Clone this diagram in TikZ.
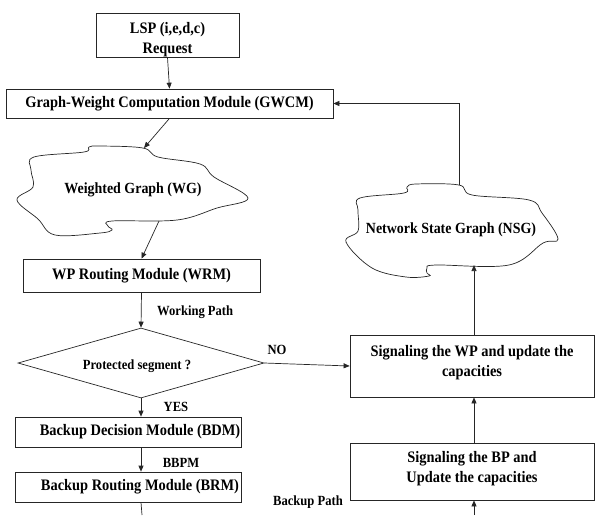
\documentclass[tikz,border=0pt]{standalone}
\usepackage{fontspec}
\setmainfont{Liberation Serif}[FakeStretch=0.9]
\usetikzlibrary{shapes.geometric,arrows.meta}
\begin{document}
\begin{tikzpicture}[x=1pt,y=-1pt,
  ln/.style={line width=0.7pt,draw=black!85},
  arr/.style={ln,-{Triangle[length=6pt,width=5pt]}},
  box/.style={ln,draw,rectangle,inner sep=0pt,align=center,
    font=\bfseries\fontsize{16}{20}\selectfont},
  maintxt/.style={align=center,inner sep=0pt,font=\bfseries\fontsize{16}{20}\selectfont},
  small/.style={inner sep=0pt,font=\bfseries\fontsize{14}{16}\selectfont},
  cloudtxt/.style={inner sep=0pt,font=\bfseries\fontsize{15.5}{18}\selectfont},
  cloudline/.style={ln}]
\useasboundingbox (0,0) rectangle (596,515);

% boxes
\node[box,minimum width=143pt,minimum height=44pt] (lsp) at (167.5,35) {};
\node[maintxt] (lsptxt) at ([yshift=-5pt]lsp.center) {LSP (i,e,d,c)\\Request};
\node[box,minimum width=327pt,minimum height=29pt] (gwcm) at (169.5,103.5) {Graph-Weight Computation Module (GWCM)};
\node[box,minimum width=237pt,minimum height=33pt] (wrm) at (141.5,275.5) {WP Routing Module (WRM)};
\node[ln,draw,diamond,aspect=3.5,minimum width=246pt,minimum height=70pt,inner sep=0pt] (dec) at (141,363) {};
\node[small] (dectxt) at (137,366) {Protected segment ?};
\node[box,minimum width=226pt,minimum height=30pt] (bdm) at (128,432) {};
\node[maintxt] (bdmtxt) at ([xshift=12pt]bdm.center) {Backup Decision Module (BDM)};
\node[box,minimum width=226pt,minimum height=30pt] (brm) at (128,487) {};
\node[maintxt] (brmtxt) at ([xshift=12pt]brm.center) {Backup Routing Module (BRM)};
\node[box,minimum width=244pt,minimum height=62pt] (wp) at (472,366) {};
\node[maintxt] (wptxt) at ([yshift=3.5pt]wp.center) {Signaling the WP and update the\\capacities};
\node[box,minimum width=244pt,minimum height=57pt] (bp) at (472,471.5) {};
\node[maintxt] (bptxt) at ([yshift=2.5pt]bp.center) {Signaling the BP and\\Update the capacities};

% clouds
\node[cloudtxt] (wg) at (133,190) {Weighted Graph (WG)};
\draw[cloudline] plot[smooth cycle,tension=0.6] coordinates {
 (34,157) (84,152) (89,147) (100,146) (143,148) (158,157) (200,164)
 (214,177) (248,198) (217,208) (177,220) (112,221) (108,226) (112,230)
 (100,233) (55,235) (38,219) (17,200) (33,187) (31,170)};
\node[cloudtxt] (nsg) at (451,230) {Network State Graph (NSG)};
\draw[cloudline] plot[smooth cycle,tension=0.6] coordinates {
 (360,198) (404,193) (407,187) (416,184) (459,185) (472,195) (529,200)
 (542,213) (558,239) (543,243) (509,265) (436,265) (427,268) (427,273)
 (429,276) (406,277) (372,268) (346,242) (358,231) (358,210)};

\coordinate (wgtop) at (144,148);
\coordinate (wgbot) at (159,221);
\coordinate (nsgtop) at (459,185);
\coordinate (nsgbot) at (476,265);
\coordinate (brmout) at (142,515);
\coordinate (bpin) at (474,515);

% connectors
\draw[arr] (lsp.south) -- (gwcm.north);
\draw[arr] (gwcm.south) -- (wgtop);
\draw[arr] (wgbot) -- (wrm.north);
\draw[arr] (wrm.south) -- (dec.north);
\draw[arr] (dec.south) -- (dec.south |- bdm.north);
\draw[arr] (dec.south |- bdm.south) -- (dec.south |- brm.north);
\draw[ln] (dec.south |- brm.south) -- (brmout);
\draw[arr] (dec.east) -- (wp.west);
\draw[arr] (bpin) -- (bpin |- bp.south);
\draw[arr] (bp.north -| bpin) -- (wp.south -| bpin);
\draw[arr] (wp.north -| bpin) -- (bpin |- nsgbot);
\draw[arr] (nsgtop) |- (gwcm.east);

% labels
\node[small,anchor=west] (lwp) at (157,312) {Working Path};
\node[small] (lno) at (277,350) {NO};
\node[small] (lyes) at (176,407) {YES};
\node[small] (lbbpm) at (181,463) {BBPM};
\node[small] (lbp) at (308,502) {Backup Path};
\end{tikzpicture}
\end{document}
